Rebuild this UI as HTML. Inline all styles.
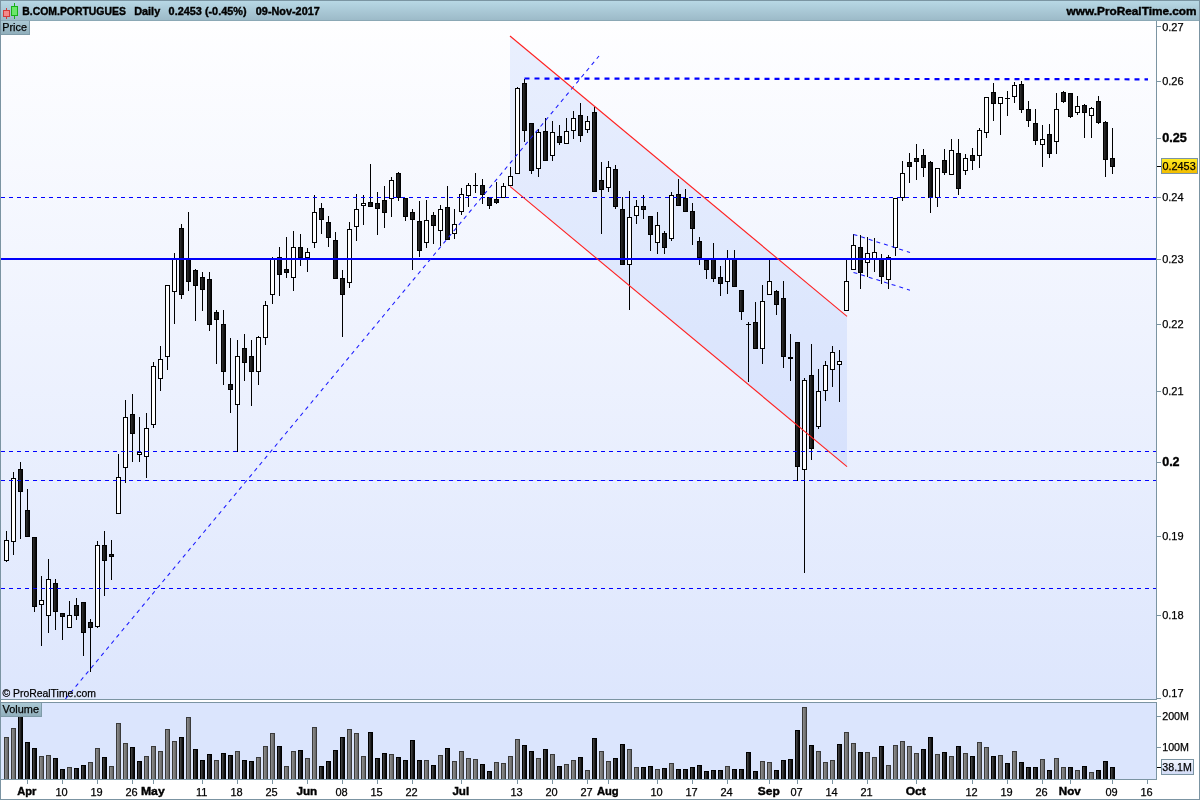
<!DOCTYPE html><html><head><meta charset="utf-8"><title>B.COM.PORTUGUES</title>
<style>html,body{margin:0;padding:0;background:#fff;overflow:hidden}svg{display:block;font-family:"Liberation Sans",sans-serif}</style></head><body>
<svg width="1200" height="800" viewBox="0 0 1200 800">
<defs>
<linearGradient id="hd" x1="0" y1="0" x2="0" y2="1"><stop offset="0" stop-color="#b9d9e6"/><stop offset="1" stop-color="#9bb9c7"/></linearGradient>
<linearGradient id="lb" x1="0" y1="0" x2="0" y2="1"><stop offset="0" stop-color="#abc9d5"/><stop offset="1" stop-color="#8eacb9"/></linearGradient>
<linearGradient id="bg" x1="0" y1="0" x2="0" y2="1"><stop offset="0" stop-color="#fefeff"/><stop offset="1" stop-color="#dde6fd"/></linearGradient>
<linearGradient id="yl" x1="0" y1="0" x2="0" y2="1"><stop offset="0" stop-color="#ffea20"/><stop offset="1" stop-color="#f2bd00"/></linearGradient>
<linearGradient id="vl" x1="0" y1="0" x2="0" y2="1"><stop offset="0" stop-color="#f0f4fe"/><stop offset="1" stop-color="#d2dbf5"/></linearGradient>
<linearGradient id="gb" x1="0" y1="0" x2="1" y2="0"><stop offset="0" stop-color="#303030"/><stop offset="1" stop-color="#060606"/></linearGradient>
<linearGradient id="vg" x1="0" y1="0" x2="1" y2="0"><stop offset="0" stop-color="#8e8e8e"/><stop offset="1" stop-color="#646464"/></linearGradient>
<linearGradient id="vb" x1="0" y1="0" x2="1" y2="0"><stop offset="0" stop-color="#4a4a4a"/><stop offset="1" stop-color="#020202"/></linearGradient>
<filter id="noop" x="0" y="0" width="1200" height="800" filterUnits="userSpaceOnUse" color-interpolation-filters="sRGB"><feOffset dx="0" dy="0"/></filter>
<clipPath id="cp"><rect x="1" y="21" width="1155" height="678"/></clipPath>
</defs>
<rect x="0" y="0" width="1200" height="800" fill="#ffffff"/>
<rect x="0" y="0" width="1200" height="21" fill="url(#hd)"/>
<rect x="0" y="0" width="1200" height="1" fill="#7b95a2"/>
<rect x="0" y="20" width="1200" height="1" fill="#8ba8b5"/>
<rect x="1" y="21" width="1155" height="678" fill="url(#bg)"/>
<rect x="1" y="703" width="1155" height="76" fill="#dbe5fd"/>
<g clip-path="url(#cp)">
<polygon points="510,36 847,316.2 847,466.6 510,186.4" fill="rgba(80,130,250,0.115)"/>
</g>
<g shape-rendering="crispEdges">
<rect x="6" y="531" width="1" height="31" fill="#000"/>
<rect x="4" y="540" width="5" height="21" fill="#000"/>
<rect x="5" y="541" width="3" height="19" fill="#fff"/>
<rect x="13" y="472" width="1" height="83" fill="#000"/>
<rect x="11" y="478" width="5" height="64" fill="#000"/>
<rect x="12" y="479" width="3" height="62" fill="#fff"/>
<rect x="20" y="462" width="1" height="77" fill="#000"/>
<rect x="18" y="469" width="5" height="23" fill="#000"/>
<rect x="19" y="470" width="3" height="21" fill="url(#gb)"/>
<rect x="27" y="489" width="1" height="48" fill="#000"/>
<rect x="25" y="510" width="5" height="27" fill="#000"/>
<rect x="26" y="511" width="3" height="25" fill="url(#gb)"/>
<rect x="34" y="537" width="1" height="75" fill="#000"/>
<rect x="32" y="537" width="5" height="70" fill="#000"/>
<rect x="33" y="538" width="3" height="68" fill="url(#gb)"/>
<rect x="41" y="576" width="1" height="70" fill="#000"/>
<rect x="39" y="600" width="5" height="5" fill="#000"/>
<rect x="40" y="601" width="3" height="3" fill="#fff"/>
<rect x="48" y="559" width="1" height="74" fill="#000"/>
<rect x="46" y="579" width="5" height="37" fill="#000"/>
<rect x="47" y="580" width="3" height="35" fill="#fff"/>
<rect x="55" y="579" width="1" height="51" fill="#000"/>
<rect x="53" y="583" width="5" height="29" fill="#000"/>
<rect x="54" y="584" width="3" height="27" fill="url(#gb)"/>
<rect x="62" y="613" width="1" height="27" fill="#000"/>
<rect x="60" y="613" width="5" height="4" fill="#000"/>
<rect x="61" y="614" width="3" height="2" fill="url(#gb)"/>
<rect x="69" y="601" width="1" height="27" fill="#000"/>
<rect x="67" y="615" width="5" height="13" fill="#000"/>
<rect x="68" y="616" width="3" height="11" fill="#fff"/>
<rect x="76" y="598" width="1" height="22" fill="#000"/>
<rect x="74" y="605" width="5" height="11" fill="#000"/>
<rect x="75" y="606" width="3" height="9" fill="url(#gb)"/>
<rect x="83" y="602" width="1" height="54" fill="#000"/>
<rect x="81" y="602" width="5" height="31" fill="#000"/>
<rect x="82" y="603" width="3" height="29" fill="url(#gb)"/>
<rect x="90" y="619" width="1" height="53" fill="#000"/>
<rect x="88" y="622" width="5" height="6" fill="#000"/>
<rect x="89" y="623" width="3" height="4" fill="url(#gb)"/>
<rect x="97" y="541" width="1" height="87" fill="#000"/>
<rect x="95" y="545" width="5" height="82" fill="#000"/>
<rect x="96" y="546" width="3" height="80" fill="#fff"/>
<rect x="104" y="531" width="1" height="65" fill="#000"/>
<rect x="102" y="545" width="5" height="16" fill="#000"/>
<rect x="103" y="546" width="3" height="14" fill="url(#gb)"/>
<rect x="111" y="540" width="1" height="40" fill="#000"/>
<rect x="109" y="554" width="5" height="3" fill="#000"/>
<rect x="110" y="555" width="3" height="1" fill="url(#gb)"/>
<rect x="118" y="454" width="1" height="60" fill="#000"/>
<rect x="116" y="477" width="5" height="37" fill="#000"/>
<rect x="117" y="478" width="3" height="35" fill="#fff"/>
<rect x="125" y="400" width="1" height="83" fill="#000"/>
<rect x="123" y="417" width="5" height="51" fill="#000"/>
<rect x="124" y="418" width="3" height="49" fill="#fff"/>
<rect x="132" y="394" width="1" height="68" fill="#000"/>
<rect x="130" y="414" width="5" height="20" fill="#000"/>
<rect x="131" y="415" width="3" height="18" fill="url(#gb)"/>
<rect x="139" y="417" width="1" height="45" fill="#000"/>
<rect x="137" y="452" width="5" height="3" fill="#000"/>
<rect x="138" y="453" width="3" height="1" fill="#fff"/>
<rect x="146" y="413" width="1" height="65" fill="#000"/>
<rect x="144" y="428" width="5" height="29" fill="#000"/>
<rect x="145" y="429" width="3" height="27" fill="#fff"/>
<rect x="153" y="362" width="1" height="66" fill="#000"/>
<rect x="151" y="366" width="5" height="59" fill="#000"/>
<rect x="152" y="367" width="3" height="57" fill="#fff"/>
<rect x="160" y="346" width="1" height="45" fill="#000"/>
<rect x="158" y="359" width="5" height="20" fill="#000"/>
<rect x="159" y="360" width="3" height="18" fill="#fff"/>
<rect x="167" y="285" width="1" height="85" fill="#000"/>
<rect x="165" y="285" width="5" height="72" fill="#000"/>
<rect x="166" y="286" width="3" height="70" fill="#fff"/>
<rect x="174" y="253" width="1" height="71" fill="#000"/>
<rect x="172" y="258" width="5" height="34" fill="#000"/>
<rect x="173" y="259" width="3" height="32" fill="#fff"/>
<rect x="181" y="224" width="1" height="75" fill="#000"/>
<rect x="179" y="228" width="5" height="67" fill="#000"/>
<rect x="180" y="229" width="3" height="65" fill="url(#gb)"/>
<rect x="188" y="212" width="1" height="79" fill="#000"/>
<rect x="186" y="258" width="5" height="24" fill="#000"/>
<rect x="187" y="259" width="3" height="22" fill="url(#gb)"/>
<rect x="195" y="269" width="1" height="52" fill="#000"/>
<rect x="193" y="270" width="5" height="16" fill="#000"/>
<rect x="194" y="271" width="3" height="14" fill="url(#gb)"/>
<rect x="202" y="272" width="1" height="39" fill="#000"/>
<rect x="200" y="277" width="5" height="13" fill="#000"/>
<rect x="201" y="278" width="3" height="11" fill="url(#gb)"/>
<rect x="209" y="272" width="1" height="59" fill="#000"/>
<rect x="207" y="279" width="5" height="46" fill="#000"/>
<rect x="208" y="280" width="3" height="44" fill="url(#gb)"/>
<rect x="216" y="310" width="1" height="54" fill="#000"/>
<rect x="214" y="312" width="5" height="8" fill="#000"/>
<rect x="215" y="313" width="3" height="6" fill="url(#gb)"/>
<rect x="223" y="310" width="1" height="75" fill="#000"/>
<rect x="221" y="324" width="5" height="48" fill="#000"/>
<rect x="222" y="325" width="3" height="46" fill="url(#gb)"/>
<rect x="230" y="338" width="1" height="75" fill="#000"/>
<rect x="228" y="384" width="5" height="6" fill="#000"/>
<rect x="229" y="385" width="3" height="4" fill="url(#gb)"/>
<rect x="237" y="340" width="1" height="112" fill="#000"/>
<rect x="235" y="356" width="5" height="49" fill="#000"/>
<rect x="236" y="357" width="3" height="47" fill="#fff"/>
<rect x="244" y="334" width="1" height="47" fill="#000"/>
<rect x="242" y="348" width="5" height="15" fill="#000"/>
<rect x="243" y="349" width="3" height="13" fill="url(#gb)"/>
<rect x="251" y="340" width="1" height="66" fill="#000"/>
<rect x="249" y="356" width="5" height="16" fill="#000"/>
<rect x="250" y="357" width="3" height="14" fill="url(#gb)"/>
<rect x="258" y="336" width="1" height="49" fill="#000"/>
<rect x="256" y="337" width="5" height="35" fill="#000"/>
<rect x="257" y="338" width="3" height="33" fill="#fff"/>
<rect x="265" y="301" width="1" height="44" fill="#000"/>
<rect x="263" y="305" width="5" height="33" fill="#000"/>
<rect x="264" y="306" width="3" height="31" fill="#fff"/>
<rect x="272" y="257" width="1" height="47" fill="#000"/>
<rect x="270" y="258" width="5" height="37" fill="#000"/>
<rect x="271" y="259" width="3" height="35" fill="#fff"/>
<rect x="279" y="247" width="1" height="49" fill="#000"/>
<rect x="277" y="257" width="5" height="18" fill="#000"/>
<rect x="278" y="258" width="3" height="16" fill="url(#gb)"/>
<rect x="286" y="237" width="1" height="41" fill="#000"/>
<rect x="284" y="269" width="5" height="4" fill="#000"/>
<rect x="285" y="270" width="3" height="2" fill="url(#gb)"/>
<rect x="293" y="231" width="1" height="60" fill="#000"/>
<rect x="291" y="247" width="5" height="31" fill="#000"/>
<rect x="292" y="248" width="3" height="29" fill="#fff"/>
<rect x="300" y="234" width="1" height="32" fill="#000"/>
<rect x="298" y="247" width="5" height="11" fill="#000"/>
<rect x="299" y="248" width="3" height="9" fill="url(#gb)"/>
<rect x="307" y="248" width="1" height="24" fill="#000"/>
<rect x="305" y="252" width="5" height="6" fill="#000"/>
<rect x="306" y="253" width="3" height="4" fill="#fff"/>
<rect x="314" y="195" width="1" height="53" fill="#000"/>
<rect x="312" y="212" width="5" height="31" fill="#000"/>
<rect x="313" y="213" width="3" height="29" fill="#fff"/>
<rect x="321" y="203" width="1" height="31" fill="#000"/>
<rect x="319" y="208" width="5" height="12" fill="#000"/>
<rect x="320" y="209" width="3" height="10" fill="url(#gb)"/>
<rect x="328" y="216" width="1" height="31" fill="#000"/>
<rect x="326" y="222" width="5" height="16" fill="#000"/>
<rect x="327" y="223" width="3" height="14" fill="url(#gb)"/>
<rect x="335" y="232" width="1" height="47" fill="#000"/>
<rect x="333" y="240" width="5" height="39" fill="#000"/>
<rect x="334" y="241" width="3" height="37" fill="url(#gb)"/>
<rect x="342" y="270" width="1" height="67" fill="#000"/>
<rect x="340" y="278" width="5" height="17" fill="#000"/>
<rect x="341" y="279" width="3" height="15" fill="url(#gb)"/>
<rect x="349" y="222" width="1" height="66" fill="#000"/>
<rect x="347" y="229" width="5" height="54" fill="#000"/>
<rect x="348" y="230" width="3" height="52" fill="#fff"/>
<rect x="356" y="194" width="1" height="47" fill="#000"/>
<rect x="354" y="209" width="5" height="18" fill="#000"/>
<rect x="355" y="210" width="3" height="16" fill="#fff"/>
<rect x="363" y="195" width="1" height="30" fill="#000"/>
<rect x="361" y="203" width="5" height="3" fill="#000"/>
<rect x="362" y="204" width="3" height="1" fill="#fff"/>
<rect x="370" y="164" width="1" height="43" fill="#000"/>
<rect x="368" y="202" width="5" height="5" fill="#000"/>
<rect x="369" y="203" width="3" height="3" fill="url(#gb)"/>
<rect x="377" y="192" width="1" height="43" fill="#000"/>
<rect x="375" y="203" width="5" height="6" fill="#000"/>
<rect x="376" y="204" width="3" height="4" fill="url(#gb)"/>
<rect x="384" y="186" width="1" height="42" fill="#000"/>
<rect x="382" y="200" width="5" height="13" fill="#000"/>
<rect x="383" y="201" width="3" height="11" fill="url(#gb)"/>
<rect x="391" y="177" width="1" height="40" fill="#000"/>
<rect x="389" y="180" width="5" height="19" fill="#000"/>
<rect x="390" y="181" width="3" height="17" fill="#fff"/>
<rect x="398" y="172" width="1" height="29" fill="#000"/>
<rect x="396" y="173" width="5" height="25" fill="#000"/>
<rect x="397" y="174" width="3" height="23" fill="url(#gb)"/>
<rect x="405" y="198" width="1" height="23" fill="#000"/>
<rect x="403" y="198" width="5" height="19" fill="#000"/>
<rect x="404" y="199" width="3" height="17" fill="url(#gb)"/>
<rect x="412" y="209" width="1" height="61" fill="#000"/>
<rect x="410" y="212" width="5" height="8" fill="#000"/>
<rect x="411" y="213" width="3" height="6" fill="url(#gb)"/>
<rect x="419" y="201" width="1" height="56" fill="#000"/>
<rect x="417" y="221" width="5" height="30" fill="#000"/>
<rect x="418" y="222" width="3" height="28" fill="url(#gb)"/>
<rect x="426" y="200" width="1" height="48" fill="#000"/>
<rect x="424" y="220" width="5" height="23" fill="#000"/>
<rect x="425" y="221" width="3" height="21" fill="#fff"/>
<rect x="433" y="212" width="1" height="32" fill="#000"/>
<rect x="431" y="215" width="5" height="11" fill="#000"/>
<rect x="432" y="216" width="3" height="9" fill="url(#gb)"/>
<rect x="440" y="205" width="1" height="41" fill="#000"/>
<rect x="438" y="209" width="5" height="22" fill="#000"/>
<rect x="439" y="210" width="3" height="20" fill="#fff"/>
<rect x="447" y="186" width="1" height="54" fill="#000"/>
<rect x="445" y="207" width="5" height="33" fill="#000"/>
<rect x="446" y="208" width="3" height="31" fill="url(#gb)"/>
<rect x="454" y="209" width="1" height="30" fill="#000"/>
<rect x="452" y="224" width="5" height="10" fill="#000"/>
<rect x="453" y="225" width="3" height="8" fill="#fff"/>
<rect x="461" y="188" width="1" height="27" fill="#000"/>
<rect x="459" y="194" width="5" height="18" fill="#000"/>
<rect x="460" y="195" width="3" height="16" fill="#fff"/>
<rect x="468" y="183" width="1" height="24" fill="#000"/>
<rect x="466" y="185" width="5" height="11" fill="#000"/>
<rect x="467" y="186" width="3" height="9" fill="#fff"/>
<rect x="475" y="173" width="1" height="20" fill="#000"/>
<rect x="473" y="185" width="5" height="1" fill="#000"/>
<rect x="482" y="179" width="1" height="25" fill="#000"/>
<rect x="480" y="185" width="5" height="10" fill="#000"/>
<rect x="481" y="186" width="3" height="8" fill="url(#gb)"/>
<rect x="489" y="197" width="1" height="12" fill="#000"/>
<rect x="487" y="197" width="5" height="9" fill="#000"/>
<rect x="488" y="198" width="3" height="7" fill="url(#gb)"/>
<rect x="496" y="182" width="1" height="22" fill="#000"/>
<rect x="494" y="199" width="5" height="4" fill="#000"/>
<rect x="495" y="200" width="3" height="2" fill="url(#gb)"/>
<rect x="503" y="183" width="1" height="15" fill="#000"/>
<rect x="501" y="186" width="5" height="12" fill="#000"/>
<rect x="502" y="187" width="3" height="10" fill="#fff"/>
<rect x="510" y="167" width="1" height="19" fill="#000"/>
<rect x="508" y="176" width="5" height="10" fill="#000"/>
<rect x="509" y="177" width="3" height="8" fill="#fff"/>
<rect x="517" y="87" width="1" height="87" fill="#000"/>
<rect x="515" y="88" width="5" height="86" fill="#000"/>
<rect x="516" y="89" width="3" height="84" fill="#fff"/>
<rect x="524" y="79" width="1" height="63" fill="#000"/>
<rect x="522" y="83" width="5" height="48" fill="#000"/>
<rect x="523" y="84" width="3" height="46" fill="url(#gb)"/>
<rect x="531" y="123" width="1" height="51" fill="#000"/>
<rect x="529" y="123" width="5" height="48" fill="#000"/>
<rect x="530" y="124" width="3" height="46" fill="url(#gb)"/>
<rect x="538" y="129" width="1" height="48" fill="#000"/>
<rect x="536" y="132" width="5" height="37" fill="#000"/>
<rect x="537" y="133" width="3" height="35" fill="#fff"/>
<rect x="545" y="118" width="1" height="43" fill="#000"/>
<rect x="543" y="131" width="5" height="30" fill="#000"/>
<rect x="544" y="132" width="3" height="28" fill="url(#gb)"/>
<rect x="552" y="121" width="1" height="40" fill="#000"/>
<rect x="550" y="132" width="5" height="24" fill="#000"/>
<rect x="551" y="133" width="3" height="22" fill="#fff"/>
<rect x="559" y="125" width="1" height="20" fill="#000"/>
<rect x="557" y="136" width="5" height="7" fill="#000"/>
<rect x="558" y="137" width="3" height="5" fill="url(#gb)"/>
<rect x="566" y="118" width="1" height="26" fill="#000"/>
<rect x="564" y="131" width="5" height="13" fill="#000"/>
<rect x="565" y="132" width="3" height="11" fill="#fff"/>
<rect x="573" y="111" width="1" height="28" fill="#000"/>
<rect x="571" y="118" width="5" height="13" fill="#000"/>
<rect x="572" y="119" width="3" height="11" fill="#fff"/>
<rect x="580" y="103" width="1" height="39" fill="#000"/>
<rect x="578" y="115" width="5" height="21" fill="#000"/>
<rect x="579" y="116" width="3" height="19" fill="url(#gb)"/>
<rect x="587" y="116" width="1" height="17" fill="#000"/>
<rect x="585" y="121" width="5" height="9" fill="#000"/>
<rect x="586" y="122" width="3" height="7" fill="#fff"/>
<rect x="594" y="107" width="1" height="85" fill="#000"/>
<rect x="592" y="112" width="5" height="80" fill="#000"/>
<rect x="593" y="113" width="3" height="78" fill="url(#gb)"/>
<rect x="601" y="162" width="1" height="72" fill="#000"/>
<rect x="599" y="180" width="5" height="10" fill="#000"/>
<rect x="600" y="181" width="3" height="8" fill="url(#gb)"/>
<rect x="608" y="161" width="1" height="31" fill="#000"/>
<rect x="606" y="167" width="5" height="21" fill="#000"/>
<rect x="607" y="168" width="3" height="19" fill="#fff"/>
<rect x="615" y="165" width="1" height="44" fill="#000"/>
<rect x="613" y="169" width="5" height="38" fill="#000"/>
<rect x="614" y="170" width="3" height="36" fill="url(#gb)"/>
<rect x="622" y="197" width="1" height="68" fill="#000"/>
<rect x="620" y="209" width="5" height="56" fill="#000"/>
<rect x="621" y="210" width="3" height="54" fill="url(#gb)"/>
<rect x="629" y="191" width="1" height="119" fill="#000"/>
<rect x="627" y="217" width="5" height="48" fill="#000"/>
<rect x="628" y="218" width="3" height="46" fill="#fff"/>
<rect x="636" y="200" width="1" height="24" fill="#000"/>
<rect x="634" y="206" width="5" height="10" fill="#000"/>
<rect x="635" y="207" width="3" height="8" fill="#fff"/>
<rect x="643" y="195" width="1" height="24" fill="#000"/>
<rect x="641" y="206" width="5" height="4" fill="#000"/>
<rect x="642" y="207" width="3" height="2" fill="url(#gb)"/>
<rect x="650" y="216" width="1" height="35" fill="#000"/>
<rect x="648" y="216" width="5" height="19" fill="#000"/>
<rect x="649" y="217" width="3" height="17" fill="url(#gb)"/>
<rect x="657" y="212" width="1" height="42" fill="#000"/>
<rect x="655" y="225" width="5" height="18" fill="#000"/>
<rect x="656" y="226" width="3" height="16" fill="#fff"/>
<rect x="664" y="231" width="1" height="23" fill="#000"/>
<rect x="662" y="233" width="5" height="15" fill="#000"/>
<rect x="663" y="234" width="3" height="13" fill="url(#gb)"/>
<rect x="671" y="192" width="1" height="49" fill="#000"/>
<rect x="669" y="195" width="5" height="44" fill="#000"/>
<rect x="670" y="196" width="3" height="42" fill="#fff"/>
<rect x="678" y="179" width="1" height="27" fill="#000"/>
<rect x="676" y="194" width="5" height="12" fill="#000"/>
<rect x="677" y="195" width="3" height="10" fill="url(#gb)"/>
<rect x="685" y="189" width="1" height="23" fill="#000"/>
<rect x="683" y="198" width="5" height="14" fill="#000"/>
<rect x="684" y="199" width="3" height="12" fill="url(#gb)"/>
<rect x="692" y="203" width="1" height="42" fill="#000"/>
<rect x="690" y="211" width="5" height="18" fill="#000"/>
<rect x="691" y="212" width="3" height="16" fill="url(#gb)"/>
<rect x="699" y="237" width="1" height="28" fill="#000"/>
<rect x="697" y="241" width="5" height="17" fill="#000"/>
<rect x="698" y="242" width="3" height="15" fill="url(#gb)"/>
<rect x="706" y="258" width="1" height="21" fill="#000"/>
<rect x="704" y="260" width="5" height="10" fill="#000"/>
<rect x="705" y="261" width="3" height="8" fill="url(#gb)"/>
<rect x="713" y="243" width="1" height="39" fill="#000"/>
<rect x="711" y="259" width="5" height="20" fill="#000"/>
<rect x="712" y="260" width="3" height="18" fill="url(#gb)"/>
<rect x="720" y="266" width="1" height="30" fill="#000"/>
<rect x="718" y="277" width="5" height="7" fill="#000"/>
<rect x="719" y="278" width="3" height="5" fill="url(#gb)"/>
<rect x="727" y="250" width="1" height="44" fill="#000"/>
<rect x="725" y="259" width="5" height="23" fill="#000"/>
<rect x="726" y="260" width="3" height="21" fill="#fff"/>
<rect x="734" y="250" width="1" height="37" fill="#000"/>
<rect x="732" y="259" width="5" height="28" fill="#000"/>
<rect x="733" y="260" width="3" height="26" fill="url(#gb)"/>
<rect x="741" y="290" width="1" height="30" fill="#000"/>
<rect x="739" y="290" width="5" height="22" fill="#000"/>
<rect x="740" y="291" width="3" height="20" fill="url(#gb)"/>
<rect x="748" y="322" width="1" height="60" fill="#000"/>
<rect x="746" y="324" width="5" height="1" fill="#000"/>
<rect x="755" y="302" width="1" height="47" fill="#000"/>
<rect x="753" y="322" width="5" height="27" fill="#000"/>
<rect x="754" y="323" width="3" height="25" fill="url(#gb)"/>
<rect x="762" y="285" width="1" height="79" fill="#000"/>
<rect x="760" y="301" width="5" height="48" fill="#000"/>
<rect x="761" y="302" width="3" height="46" fill="#fff"/>
<rect x="769" y="260" width="1" height="35" fill="#000"/>
<rect x="767" y="281" width="5" height="14" fill="#000"/>
<rect x="768" y="282" width="3" height="12" fill="#fff"/>
<rect x="776" y="290" width="1" height="25" fill="#000"/>
<rect x="774" y="291" width="5" height="14" fill="#000"/>
<rect x="775" y="292" width="3" height="12" fill="url(#gb)"/>
<rect x="783" y="281" width="1" height="87" fill="#000"/>
<rect x="781" y="298" width="5" height="59" fill="#000"/>
<rect x="782" y="299" width="3" height="57" fill="url(#gb)"/>
<rect x="790" y="334" width="1" height="47" fill="#000"/>
<rect x="788" y="357" width="5" height="2" fill="#000"/>
<rect x="797" y="342" width="1" height="139" fill="#000"/>
<rect x="795" y="342" width="5" height="125" fill="#000"/>
<rect x="796" y="343" width="3" height="123" fill="url(#gb)"/>
<rect x="804" y="378" width="1" height="195" fill="#000"/>
<rect x="802" y="380" width="5" height="90" fill="#000"/>
<rect x="803" y="381" width="3" height="88" fill="#fff"/>
<rect x="811" y="344" width="1" height="116" fill="#000"/>
<rect x="809" y="375" width="5" height="74" fill="#000"/>
<rect x="810" y="376" width="3" height="72" fill="url(#gb)"/>
<rect x="818" y="369" width="1" height="60" fill="#000"/>
<rect x="816" y="391" width="5" height="36" fill="#000"/>
<rect x="817" y="392" width="3" height="34" fill="#fff"/>
<rect x="825" y="361" width="1" height="40" fill="#000"/>
<rect x="823" y="365" width="5" height="26" fill="#000"/>
<rect x="824" y="366" width="3" height="24" fill="#fff"/>
<rect x="832" y="346" width="1" height="41" fill="#000"/>
<rect x="830" y="352" width="5" height="18" fill="#000"/>
<rect x="831" y="353" width="3" height="16" fill="#fff"/>
<rect x="839" y="350" width="1" height="52" fill="#000"/>
<rect x="837" y="361" width="5" height="4" fill="#000"/>
<rect x="838" y="362" width="3" height="2" fill="#fff"/>
<rect x="846" y="259" width="1" height="52" fill="#000"/>
<rect x="844" y="281" width="5" height="30" fill="#000"/>
<rect x="845" y="282" width="3" height="28" fill="#fff"/>
<rect x="853" y="234" width="1" height="36" fill="#000"/>
<rect x="851" y="245" width="5" height="25" fill="#000"/>
<rect x="852" y="246" width="3" height="23" fill="#fff"/>
<rect x="860" y="235" width="1" height="54" fill="#000"/>
<rect x="858" y="247" width="5" height="26" fill="#000"/>
<rect x="859" y="248" width="3" height="24" fill="url(#gb)"/>
<rect x="867" y="237" width="1" height="40" fill="#000"/>
<rect x="865" y="253" width="5" height="10" fill="#000"/>
<rect x="866" y="254" width="3" height="8" fill="#fff"/>
<rect x="874" y="238" width="1" height="34" fill="#000"/>
<rect x="872" y="252" width="5" height="8" fill="#000"/>
<rect x="873" y="253" width="3" height="6" fill="#fff"/>
<rect x="881" y="254" width="1" height="30" fill="#000"/>
<rect x="879" y="259" width="5" height="18" fill="#000"/>
<rect x="880" y="260" width="3" height="16" fill="url(#gb)"/>
<rect x="888" y="255" width="1" height="34" fill="#000"/>
<rect x="886" y="257" width="5" height="23" fill="#000"/>
<rect x="887" y="258" width="3" height="21" fill="#fff"/>
<rect x="895" y="198" width="1" height="58" fill="#000"/>
<rect x="893" y="198" width="5" height="50" fill="#000"/>
<rect x="894" y="199" width="3" height="48" fill="#fff"/>
<rect x="902" y="161" width="1" height="40" fill="#000"/>
<rect x="900" y="173" width="5" height="25" fill="#000"/>
<rect x="901" y="174" width="3" height="23" fill="#fff"/>
<rect x="909" y="153" width="1" height="30" fill="#000"/>
<rect x="907" y="162" width="5" height="5" fill="#000"/>
<rect x="908" y="163" width="3" height="3" fill="url(#gb)"/>
<rect x="916" y="144" width="1" height="36" fill="#000"/>
<rect x="914" y="158" width="5" height="4" fill="#000"/>
<rect x="915" y="159" width="3" height="2" fill="url(#gb)"/>
<rect x="923" y="149" width="1" height="28" fill="#000"/>
<rect x="921" y="155" width="5" height="13" fill="#000"/>
<rect x="922" y="156" width="3" height="11" fill="url(#gb)"/>
<rect x="930" y="161" width="1" height="52" fill="#000"/>
<rect x="928" y="162" width="5" height="36" fill="#000"/>
<rect x="929" y="163" width="3" height="34" fill="url(#gb)"/>
<rect x="937" y="168" width="1" height="39" fill="#000"/>
<rect x="935" y="168" width="5" height="30" fill="#000"/>
<rect x="936" y="169" width="3" height="28" fill="#fff"/>
<rect x="944" y="149" width="1" height="26" fill="#000"/>
<rect x="942" y="160" width="5" height="13" fill="#000"/>
<rect x="943" y="161" width="3" height="11" fill="url(#gb)"/>
<rect x="951" y="139" width="1" height="36" fill="#000"/>
<rect x="949" y="150" width="5" height="25" fill="#000"/>
<rect x="950" y="151" width="3" height="23" fill="#fff"/>
<rect x="958" y="139" width="1" height="56" fill="#000"/>
<rect x="956" y="153" width="5" height="36" fill="#000"/>
<rect x="957" y="154" width="3" height="34" fill="url(#gb)"/>
<rect x="965" y="154" width="1" height="21" fill="#000"/>
<rect x="963" y="158" width="5" height="13" fill="#000"/>
<rect x="964" y="159" width="3" height="11" fill="#fff"/>
<rect x="972" y="148" width="1" height="22" fill="#000"/>
<rect x="970" y="155" width="5" height="6" fill="#000"/>
<rect x="971" y="156" width="3" height="4" fill="url(#gb)"/>
<rect x="979" y="128" width="1" height="40" fill="#000"/>
<rect x="977" y="130" width="5" height="26" fill="#000"/>
<rect x="978" y="131" width="3" height="24" fill="#fff"/>
<rect x="986" y="97" width="1" height="41" fill="#000"/>
<rect x="984" y="97" width="5" height="36" fill="#000"/>
<rect x="985" y="98" width="3" height="34" fill="#fff"/>
<rect x="993" y="83" width="1" height="38" fill="#000"/>
<rect x="991" y="92" width="5" height="12" fill="#000"/>
<rect x="992" y="93" width="3" height="10" fill="url(#gb)"/>
<rect x="1000" y="97" width="1" height="38" fill="#000"/>
<rect x="998" y="97" width="5" height="7" fill="#000"/>
<rect x="999" y="98" width="3" height="5" fill="#fff"/>
<rect x="1007" y="91" width="1" height="25" fill="#000"/>
<rect x="1005" y="98" width="5" height="1" fill="#000"/>
<rect x="1014" y="82" width="1" height="21" fill="#000"/>
<rect x="1012" y="85" width="5" height="12" fill="#000"/>
<rect x="1013" y="86" width="3" height="10" fill="#fff"/>
<rect x="1021" y="81" width="1" height="32" fill="#000"/>
<rect x="1019" y="84" width="5" height="26" fill="#000"/>
<rect x="1020" y="85" width="3" height="24" fill="url(#gb)"/>
<rect x="1028" y="101" width="1" height="26" fill="#000"/>
<rect x="1026" y="109" width="5" height="12" fill="#000"/>
<rect x="1027" y="110" width="3" height="10" fill="url(#gb)"/>
<rect x="1035" y="109" width="1" height="36" fill="#000"/>
<rect x="1033" y="123" width="5" height="18" fill="#000"/>
<rect x="1034" y="124" width="3" height="16" fill="url(#gb)"/>
<rect x="1042" y="125" width="1" height="42" fill="#000"/>
<rect x="1040" y="139" width="5" height="6" fill="#000"/>
<rect x="1041" y="140" width="3" height="4" fill="#fff"/>
<rect x="1049" y="124" width="1" height="34" fill="#000"/>
<rect x="1047" y="134" width="5" height="20" fill="#000"/>
<rect x="1048" y="135" width="3" height="18" fill="url(#gb)"/>
<rect x="1056" y="93" width="1" height="61" fill="#000"/>
<rect x="1054" y="109" width="5" height="33" fill="#000"/>
<rect x="1055" y="110" width="3" height="31" fill="#fff"/>
<rect x="1063" y="91" width="1" height="12" fill="#000"/>
<rect x="1061" y="92" width="5" height="10" fill="#000"/>
<rect x="1062" y="93" width="3" height="8" fill="url(#gb)"/>
<rect x="1070" y="93" width="1" height="25" fill="#000"/>
<rect x="1068" y="93" width="5" height="24" fill="#000"/>
<rect x="1069" y="94" width="3" height="22" fill="url(#gb)"/>
<rect x="1077" y="96" width="1" height="19" fill="#000"/>
<rect x="1075" y="106" width="5" height="7" fill="#000"/>
<rect x="1076" y="107" width="3" height="5" fill="#fff"/>
<rect x="1084" y="104" width="1" height="34" fill="#000"/>
<rect x="1082" y="105" width="5" height="8" fill="#000"/>
<rect x="1083" y="106" width="3" height="6" fill="url(#gb)"/>
<rect x="1091" y="107" width="1" height="31" fill="#000"/>
<rect x="1089" y="108" width="5" height="8" fill="#000"/>
<rect x="1090" y="109" width="3" height="6" fill="#fff"/>
<rect x="1098" y="96" width="1" height="28" fill="#000"/>
<rect x="1096" y="101" width="5" height="22" fill="#000"/>
<rect x="1097" y="102" width="3" height="20" fill="url(#gb)"/>
<rect x="1105" y="121" width="1" height="56" fill="#000"/>
<rect x="1103" y="122" width="5" height="38" fill="#000"/>
<rect x="1104" y="123" width="3" height="36" fill="url(#gb)"/>
<rect x="1112" y="128" width="1" height="46" fill="#000"/>
<rect x="1110" y="158" width="5" height="9" fill="#000"/>
<rect x="1111" y="159" width="3" height="7" fill="url(#gb)"/>
</g>
<g clip-path="url(#cp)" fill="none">
<line x1="1" y1="197.5" x2="1156" y2="197.5" stroke="#0000ff" stroke-width="1" stroke-dasharray="4 4" shape-rendering="crispEdges"/>
<line x1="1" y1="451.5" x2="1156" y2="451.5" stroke="#0000ff" stroke-width="1" stroke-dasharray="4 4" shape-rendering="crispEdges"/>
<line x1="1" y1="480.5" x2="1156" y2="480.5" stroke="#0000ff" stroke-width="1" stroke-dasharray="4 4" shape-rendering="crispEdges"/>
<line x1="1" y1="588.5" x2="1156" y2="588.5" stroke="#0000ff" stroke-width="1" stroke-dasharray="4 4" shape-rendering="crispEdges"/>
<rect x="1" y="258" width="1155" height="2" fill="#0000fa" shape-rendering="crispEdges"/>
<line x1="65.4" y1="699" x2="599" y2="56" stroke="#1a1aff" stroke-width="1.05" stroke-dasharray="4 4"/>
<line x1="510" y1="36" x2="847" y2="316.4" stroke="#ff2020" stroke-width="1.1"/>
<line x1="510" y1="186.4" x2="847" y2="466.6" stroke="#ff2020" stroke-width="1.1"/>
<line x1="853.5" y1="234.4" x2="910" y2="252.4" stroke="#1a1aff" stroke-width="1.05" stroke-dasharray="4 4"/>
<line x1="853.5" y1="272.4" x2="910" y2="290.2" stroke="#1a1aff" stroke-width="1.05" stroke-dasharray="4 4"/>
<line x1="524.5" y1="78.5" x2="1148" y2="79.3" stroke="#0000ff" stroke-width="2.2" stroke-dasharray="5 5"/>
</g>
<g shape-rendering="crispEdges">
<rect x="4" y="737" width="5" height="42" fill="#3a3a3a"/><rect x="5" y="738" width="3" height="41" fill="url(#vg)"/>
<rect x="11" y="728" width="5" height="51" fill="#3a3a3a"/><rect x="12" y="729" width="3" height="50" fill="url(#vg)"/>
<rect x="18" y="704" width="5" height="75" fill="#000"/><rect x="19" y="705" width="3" height="74" fill="url(#vb)"/>
<rect x="25" y="742" width="5" height="37" fill="#000"/><rect x="26" y="743" width="3" height="36" fill="url(#vb)"/>
<rect x="32" y="748" width="5" height="31" fill="#000"/><rect x="33" y="749" width="3" height="30" fill="url(#vb)"/>
<rect x="39" y="756" width="5" height="23" fill="#3a3a3a"/><rect x="40" y="757" width="3" height="22" fill="url(#vg)"/>
<rect x="46" y="755" width="5" height="24" fill="#3a3a3a"/><rect x="47" y="756" width="3" height="23" fill="url(#vg)"/>
<rect x="53" y="758" width="5" height="21" fill="#000"/><rect x="54" y="759" width="3" height="20" fill="url(#vb)"/>
<rect x="60" y="769" width="5" height="10" fill="#000"/><rect x="61" y="770" width="3" height="9" fill="url(#vb)"/>
<rect x="67" y="767" width="5" height="12" fill="#3a3a3a"/><rect x="68" y="768" width="3" height="11" fill="url(#vg)"/>
<rect x="74" y="768" width="5" height="11" fill="#000"/><rect x="75" y="769" width="3" height="10" fill="url(#vb)"/>
<rect x="81" y="765" width="5" height="14" fill="#000"/><rect x="82" y="766" width="3" height="13" fill="url(#vb)"/>
<rect x="88" y="762" width="5" height="17" fill="#3a3a3a"/><rect x="89" y="763" width="3" height="16" fill="url(#vg)"/>
<rect x="95" y="748" width="5" height="31" fill="#3a3a3a"/><rect x="96" y="749" width="3" height="30" fill="url(#vg)"/>
<rect x="102" y="757" width="5" height="22" fill="#000"/><rect x="103" y="758" width="3" height="21" fill="url(#vb)"/>
<rect x="109" y="766" width="5" height="13" fill="#3a3a3a"/><rect x="110" y="767" width="3" height="12" fill="url(#vg)"/>
<rect x="116" y="723" width="5" height="56" fill="#3a3a3a"/><rect x="117" y="724" width="3" height="55" fill="url(#vg)"/>
<rect x="123" y="743" width="5" height="36" fill="#3a3a3a"/><rect x="124" y="744" width="3" height="35" fill="url(#vg)"/>
<rect x="130" y="747" width="5" height="32" fill="#000"/><rect x="131" y="748" width="3" height="31" fill="url(#vb)"/>
<rect x="137" y="761" width="5" height="18" fill="#000"/><rect x="138" y="762" width="3" height="17" fill="url(#vb)"/>
<rect x="144" y="756" width="5" height="23" fill="#3a3a3a"/><rect x="145" y="757" width="3" height="22" fill="url(#vg)"/>
<rect x="151" y="746" width="5" height="33" fill="#3a3a3a"/><rect x="152" y="747" width="3" height="32" fill="url(#vg)"/>
<rect x="158" y="751" width="5" height="28" fill="#3a3a3a"/><rect x="159" y="752" width="3" height="27" fill="url(#vg)"/>
<rect x="165" y="729" width="5" height="50" fill="#3a3a3a"/><rect x="166" y="730" width="3" height="49" fill="url(#vg)"/>
<rect x="172" y="741" width="5" height="38" fill="#3a3a3a"/><rect x="173" y="742" width="3" height="37" fill="url(#vg)"/>
<rect x="179" y="737" width="5" height="42" fill="#000"/><rect x="180" y="738" width="3" height="41" fill="url(#vb)"/>
<rect x="186" y="717" width="5" height="62" fill="#3a3a3a"/><rect x="187" y="718" width="3" height="61" fill="url(#vg)"/>
<rect x="193" y="749" width="5" height="30" fill="#000"/><rect x="194" y="750" width="3" height="29" fill="url(#vb)"/>
<rect x="200" y="760" width="5" height="19" fill="#000"/><rect x="201" y="761" width="3" height="18" fill="url(#vb)"/>
<rect x="207" y="754" width="5" height="25" fill="#000"/><rect x="208" y="755" width="3" height="24" fill="url(#vb)"/>
<rect x="214" y="760" width="5" height="19" fill="#3a3a3a"/><rect x="215" y="761" width="3" height="18" fill="url(#vg)"/>
<rect x="221" y="753" width="5" height="26" fill="#000"/><rect x="222" y="754" width="3" height="25" fill="url(#vb)"/>
<rect x="228" y="755" width="5" height="24" fill="#000"/><rect x="229" y="756" width="3" height="23" fill="url(#vb)"/>
<rect x="235" y="751" width="5" height="28" fill="#3a3a3a"/><rect x="236" y="752" width="3" height="27" fill="url(#vg)"/>
<rect x="242" y="760" width="5" height="19" fill="#000"/><rect x="243" y="761" width="3" height="18" fill="url(#vb)"/>
<rect x="249" y="761" width="5" height="18" fill="#000"/><rect x="250" y="762" width="3" height="17" fill="url(#vb)"/>
<rect x="256" y="757" width="5" height="22" fill="#3a3a3a"/><rect x="257" y="758" width="3" height="21" fill="url(#vg)"/>
<rect x="263" y="746" width="5" height="33" fill="#3a3a3a"/><rect x="264" y="747" width="3" height="32" fill="url(#vg)"/>
<rect x="270" y="733" width="5" height="46" fill="#3a3a3a"/><rect x="271" y="734" width="3" height="45" fill="url(#vg)"/>
<rect x="277" y="746" width="5" height="33" fill="#000"/><rect x="278" y="747" width="3" height="32" fill="url(#vb)"/>
<rect x="284" y="766" width="5" height="13" fill="#3a3a3a"/><rect x="285" y="767" width="3" height="12" fill="url(#vg)"/>
<rect x="291" y="751" width="5" height="28" fill="#3a3a3a"/><rect x="292" y="752" width="3" height="27" fill="url(#vg)"/>
<rect x="298" y="750" width="5" height="29" fill="#000"/><rect x="299" y="751" width="3" height="28" fill="url(#vb)"/>
<rect x="305" y="758" width="5" height="21" fill="#3a3a3a"/><rect x="306" y="759" width="3" height="20" fill="url(#vg)"/>
<rect x="312" y="727" width="5" height="52" fill="#3a3a3a"/><rect x="313" y="728" width="3" height="51" fill="url(#vg)"/>
<rect x="319" y="766" width="5" height="13" fill="#000"/><rect x="320" y="767" width="3" height="12" fill="url(#vb)"/>
<rect x="326" y="761" width="5" height="18" fill="#000"/><rect x="327" y="762" width="3" height="17" fill="url(#vb)"/>
<rect x="333" y="750" width="5" height="29" fill="#000"/><rect x="334" y="751" width="3" height="28" fill="url(#vb)"/>
<rect x="340" y="737" width="5" height="42" fill="#000"/><rect x="341" y="738" width="3" height="41" fill="url(#vb)"/>
<rect x="347" y="729" width="5" height="50" fill="#3a3a3a"/><rect x="348" y="730" width="3" height="49" fill="url(#vg)"/>
<rect x="354" y="733" width="5" height="46" fill="#3a3a3a"/><rect x="355" y="734" width="3" height="45" fill="url(#vg)"/>
<rect x="361" y="756" width="5" height="23" fill="#3a3a3a"/><rect x="362" y="757" width="3" height="22" fill="url(#vg)"/>
<rect x="368" y="732" width="5" height="47" fill="#000"/><rect x="369" y="733" width="3" height="46" fill="url(#vb)"/>
<rect x="375" y="758" width="5" height="21" fill="#000"/><rect x="376" y="759" width="3" height="20" fill="url(#vb)"/>
<rect x="382" y="753" width="5" height="26" fill="#000"/><rect x="383" y="754" width="3" height="25" fill="url(#vb)"/>
<rect x="389" y="754" width="5" height="25" fill="#3a3a3a"/><rect x="390" y="755" width="3" height="24" fill="url(#vg)"/>
<rect x="396" y="757" width="5" height="22" fill="#000"/><rect x="397" y="758" width="3" height="21" fill="url(#vb)"/>
<rect x="403" y="760" width="5" height="19" fill="#000"/><rect x="404" y="761" width="3" height="18" fill="url(#vb)"/>
<rect x="410" y="740" width="5" height="39" fill="#000"/><rect x="411" y="741" width="3" height="38" fill="url(#vb)"/>
<rect x="417" y="760" width="5" height="19" fill="#000"/><rect x="418" y="761" width="3" height="18" fill="url(#vb)"/>
<rect x="424" y="760" width="5" height="19" fill="#3a3a3a"/><rect x="425" y="761" width="3" height="18" fill="url(#vg)"/>
<rect x="431" y="765" width="5" height="14" fill="#000"/><rect x="432" y="766" width="3" height="13" fill="url(#vb)"/>
<rect x="438" y="755" width="5" height="24" fill="#3a3a3a"/><rect x="439" y="756" width="3" height="23" fill="url(#vg)"/>
<rect x="445" y="748" width="5" height="31" fill="#000"/><rect x="446" y="749" width="3" height="30" fill="url(#vb)"/>
<rect x="452" y="761" width="5" height="18" fill="#3a3a3a"/><rect x="453" y="762" width="3" height="17" fill="url(#vg)"/>
<rect x="459" y="751" width="5" height="28" fill="#3a3a3a"/><rect x="460" y="752" width="3" height="27" fill="url(#vg)"/>
<rect x="466" y="758" width="5" height="21" fill="#3a3a3a"/><rect x="467" y="759" width="3" height="20" fill="url(#vg)"/>
<rect x="473" y="759" width="5" height="20" fill="#3a3a3a"/><rect x="474" y="760" width="3" height="19" fill="url(#vg)"/>
<rect x="480" y="764" width="5" height="15" fill="#000"/><rect x="481" y="765" width="3" height="14" fill="url(#vb)"/>
<rect x="487" y="771" width="5" height="8" fill="#000"/><rect x="488" y="772" width="3" height="7" fill="url(#vb)"/>
<rect x="494" y="762" width="5" height="17" fill="#3a3a3a"/><rect x="495" y="763" width="3" height="16" fill="url(#vg)"/>
<rect x="501" y="763" width="5" height="16" fill="#3a3a3a"/><rect x="502" y="764" width="3" height="15" fill="url(#vg)"/>
<rect x="508" y="756" width="5" height="23" fill="#3a3a3a"/><rect x="509" y="757" width="3" height="22" fill="url(#vg)"/>
<rect x="515" y="739" width="5" height="40" fill="#3a3a3a"/><rect x="516" y="740" width="3" height="39" fill="url(#vg)"/>
<rect x="522" y="745" width="5" height="34" fill="#000"/><rect x="523" y="746" width="3" height="33" fill="url(#vb)"/>
<rect x="529" y="751" width="5" height="28" fill="#000"/><rect x="530" y="752" width="3" height="27" fill="url(#vb)"/>
<rect x="536" y="758" width="5" height="21" fill="#3a3a3a"/><rect x="537" y="759" width="3" height="20" fill="url(#vg)"/>
<rect x="543" y="749" width="5" height="30" fill="#000"/><rect x="544" y="750" width="3" height="29" fill="url(#vb)"/>
<rect x="550" y="754" width="5" height="25" fill="#3a3a3a"/><rect x="551" y="755" width="3" height="24" fill="url(#vg)"/>
<rect x="557" y="766" width="5" height="13" fill="#000"/><rect x="558" y="767" width="3" height="12" fill="url(#vb)"/>
<rect x="564" y="764" width="5" height="15" fill="#3a3a3a"/><rect x="565" y="765" width="3" height="14" fill="url(#vg)"/>
<rect x="571" y="760" width="5" height="19" fill="#3a3a3a"/><rect x="572" y="761" width="3" height="18" fill="url(#vg)"/>
<rect x="578" y="757" width="5" height="22" fill="#000"/><rect x="579" y="758" width="3" height="21" fill="url(#vb)"/>
<rect x="585" y="770" width="5" height="9" fill="#3a3a3a"/><rect x="586" y="771" width="3" height="8" fill="url(#vg)"/>
<rect x="592" y="738" width="5" height="41" fill="#000"/><rect x="593" y="739" width="3" height="40" fill="url(#vb)"/>
<rect x="599" y="751" width="5" height="28" fill="#3a3a3a"/><rect x="600" y="752" width="3" height="27" fill="url(#vg)"/>
<rect x="606" y="761" width="5" height="18" fill="#3a3a3a"/><rect x="607" y="762" width="3" height="17" fill="url(#vg)"/>
<rect x="613" y="758" width="5" height="21" fill="#000"/><rect x="614" y="759" width="3" height="20" fill="url(#vb)"/>
<rect x="620" y="744" width="5" height="35" fill="#000"/><rect x="621" y="745" width="3" height="34" fill="url(#vb)"/>
<rect x="627" y="749" width="5" height="30" fill="#3a3a3a"/><rect x="628" y="750" width="3" height="29" fill="url(#vg)"/>
<rect x="634" y="767" width="5" height="12" fill="#3a3a3a"/><rect x="635" y="768" width="3" height="11" fill="url(#vg)"/>
<rect x="641" y="767" width="5" height="12" fill="#000"/><rect x="642" y="768" width="3" height="11" fill="url(#vb)"/>
<rect x="648" y="766" width="5" height="13" fill="#000"/><rect x="649" y="767" width="3" height="12" fill="url(#vb)"/>
<rect x="655" y="769" width="5" height="10" fill="#3a3a3a"/><rect x="656" y="770" width="3" height="9" fill="url(#vg)"/>
<rect x="662" y="768" width="5" height="11" fill="#000"/><rect x="663" y="769" width="3" height="10" fill="url(#vb)"/>
<rect x="669" y="763" width="5" height="16" fill="#3a3a3a"/><rect x="670" y="764" width="3" height="15" fill="url(#vg)"/>
<rect x="676" y="769" width="5" height="10" fill="#000"/><rect x="677" y="770" width="3" height="9" fill="url(#vb)"/>
<rect x="683" y="769" width="5" height="10" fill="#000"/><rect x="684" y="770" width="3" height="9" fill="url(#vb)"/>
<rect x="690" y="767" width="5" height="12" fill="#000"/><rect x="691" y="768" width="3" height="11" fill="url(#vb)"/>
<rect x="697" y="765" width="5" height="14" fill="#000"/><rect x="698" y="766" width="3" height="13" fill="url(#vb)"/>
<rect x="704" y="771" width="5" height="8" fill="#000"/><rect x="705" y="772" width="3" height="7" fill="url(#vb)"/>
<rect x="711" y="770" width="5" height="9" fill="#000"/><rect x="712" y="771" width="3" height="8" fill="url(#vb)"/>
<rect x="718" y="770" width="5" height="9" fill="#000"/><rect x="719" y="771" width="3" height="8" fill="url(#vb)"/>
<rect x="725" y="766" width="5" height="13" fill="#3a3a3a"/><rect x="726" y="767" width="3" height="12" fill="url(#vg)"/>
<rect x="732" y="769" width="5" height="10" fill="#000"/><rect x="733" y="770" width="3" height="9" fill="url(#vb)"/>
<rect x="739" y="769" width="5" height="10" fill="#000"/><rect x="740" y="770" width="3" height="9" fill="url(#vb)"/>
<rect x="746" y="752" width="5" height="27" fill="#000"/><rect x="747" y="753" width="3" height="26" fill="url(#vb)"/>
<rect x="753" y="771" width="5" height="8" fill="#000"/><rect x="754" y="772" width="3" height="7" fill="url(#vb)"/>
<rect x="760" y="761" width="5" height="18" fill="#3a3a3a"/><rect x="761" y="762" width="3" height="17" fill="url(#vg)"/>
<rect x="767" y="762" width="5" height="17" fill="#3a3a3a"/><rect x="768" y="763" width="3" height="16" fill="url(#vg)"/>
<rect x="774" y="770" width="5" height="9" fill="#000"/><rect x="775" y="771" width="3" height="8" fill="url(#vb)"/>
<rect x="781" y="760" width="5" height="19" fill="#000"/><rect x="782" y="761" width="3" height="18" fill="url(#vb)"/>
<rect x="788" y="759" width="5" height="20" fill="#000"/><rect x="789" y="760" width="3" height="19" fill="url(#vb)"/>
<rect x="795" y="730" width="5" height="49" fill="#000"/><rect x="796" y="731" width="3" height="48" fill="url(#vb)"/>
<rect x="802" y="707" width="5" height="72" fill="#3a3a3a"/><rect x="803" y="708" width="3" height="71" fill="url(#vg)"/>
<rect x="809" y="745" width="5" height="34" fill="#000"/><rect x="810" y="746" width="3" height="33" fill="url(#vb)"/>
<rect x="816" y="751" width="5" height="28" fill="#3a3a3a"/><rect x="817" y="752" width="3" height="27" fill="url(#vg)"/>
<rect x="823" y="762" width="5" height="17" fill="#3a3a3a"/><rect x="824" y="763" width="3" height="16" fill="url(#vg)"/>
<rect x="830" y="760" width="5" height="19" fill="#3a3a3a"/><rect x="831" y="761" width="3" height="18" fill="url(#vg)"/>
<rect x="837" y="744" width="5" height="35" fill="#000"/><rect x="838" y="745" width="3" height="34" fill="url(#vb)"/>
<rect x="844" y="732" width="5" height="47" fill="#3a3a3a"/><rect x="845" y="733" width="3" height="46" fill="url(#vg)"/>
<rect x="851" y="743" width="5" height="36" fill="#3a3a3a"/><rect x="852" y="744" width="3" height="35" fill="url(#vg)"/>
<rect x="858" y="752" width="5" height="27" fill="#000"/><rect x="859" y="753" width="3" height="26" fill="url(#vb)"/>
<rect x="865" y="752" width="5" height="27" fill="#3a3a3a"/><rect x="866" y="753" width="3" height="26" fill="url(#vg)"/>
<rect x="872" y="757" width="5" height="22" fill="#3a3a3a"/><rect x="873" y="758" width="3" height="21" fill="url(#vg)"/>
<rect x="879" y="746" width="5" height="33" fill="#000"/><rect x="880" y="747" width="3" height="32" fill="url(#vb)"/>
<rect x="886" y="765" width="5" height="14" fill="#3a3a3a"/><rect x="887" y="766" width="3" height="13" fill="url(#vg)"/>
<rect x="893" y="745" width="5" height="34" fill="#3a3a3a"/><rect x="894" y="746" width="3" height="33" fill="url(#vg)"/>
<rect x="900" y="741" width="5" height="38" fill="#3a3a3a"/><rect x="901" y="742" width="3" height="37" fill="url(#vg)"/>
<rect x="907" y="746" width="5" height="33" fill="#3a3a3a"/><rect x="908" y="747" width="3" height="32" fill="url(#vg)"/>
<rect x="914" y="753" width="5" height="26" fill="#3a3a3a"/><rect x="915" y="754" width="3" height="25" fill="url(#vg)"/>
<rect x="921" y="749" width="5" height="30" fill="#000"/><rect x="922" y="750" width="3" height="29" fill="url(#vb)"/>
<rect x="928" y="737" width="5" height="42" fill="#000"/><rect x="929" y="738" width="3" height="41" fill="url(#vb)"/>
<rect x="935" y="754" width="5" height="25" fill="#3a3a3a"/><rect x="936" y="755" width="3" height="24" fill="url(#vg)"/>
<rect x="942" y="752" width="5" height="27" fill="#000"/><rect x="943" y="753" width="3" height="26" fill="url(#vb)"/>
<rect x="949" y="756" width="5" height="23" fill="#3a3a3a"/><rect x="950" y="757" width="3" height="22" fill="url(#vg)"/>
<rect x="956" y="746" width="5" height="33" fill="#000"/><rect x="957" y="747" width="3" height="32" fill="url(#vb)"/>
<rect x="963" y="753" width="5" height="26" fill="#3a3a3a"/><rect x="964" y="754" width="3" height="25" fill="url(#vg)"/>
<rect x="970" y="756" width="5" height="23" fill="#000"/><rect x="971" y="757" width="3" height="22" fill="url(#vb)"/>
<rect x="977" y="742" width="5" height="37" fill="#3a3a3a"/><rect x="978" y="743" width="3" height="36" fill="url(#vg)"/>
<rect x="984" y="747" width="5" height="32" fill="#3a3a3a"/><rect x="985" y="748" width="3" height="31" fill="url(#vg)"/>
<rect x="991" y="756" width="5" height="23" fill="#000"/><rect x="992" y="757" width="3" height="22" fill="url(#vb)"/>
<rect x="998" y="755" width="5" height="24" fill="#3a3a3a"/><rect x="999" y="756" width="3" height="23" fill="url(#vg)"/>
<rect x="1005" y="763" width="5" height="16" fill="#000"/><rect x="1006" y="764" width="3" height="15" fill="url(#vb)"/>
<rect x="1012" y="751" width="5" height="28" fill="#3a3a3a"/><rect x="1013" y="752" width="3" height="27" fill="url(#vg)"/>
<rect x="1019" y="762" width="5" height="17" fill="#000"/><rect x="1020" y="763" width="3" height="16" fill="url(#vb)"/>
<rect x="1026" y="767" width="5" height="12" fill="#000"/><rect x="1027" y="768" width="3" height="11" fill="url(#vb)"/>
<rect x="1033" y="767" width="5" height="12" fill="#000"/><rect x="1034" y="768" width="3" height="11" fill="url(#vb)"/>
<rect x="1040" y="759" width="5" height="20" fill="#3a3a3a"/><rect x="1041" y="760" width="3" height="19" fill="url(#vg)"/>
<rect x="1047" y="770" width="5" height="9" fill="#000"/><rect x="1048" y="771" width="3" height="8" fill="url(#vb)"/>
<rect x="1054" y="758" width="5" height="21" fill="#3a3a3a"/><rect x="1055" y="759" width="3" height="20" fill="url(#vg)"/>
<rect x="1061" y="767" width="5" height="12" fill="#3a3a3a"/><rect x="1062" y="768" width="3" height="11" fill="url(#vg)"/>
<rect x="1068" y="767" width="5" height="12" fill="#000"/><rect x="1069" y="768" width="3" height="11" fill="url(#vb)"/>
<rect x="1075" y="770" width="5" height="9" fill="#3a3a3a"/><rect x="1076" y="771" width="3" height="8" fill="url(#vg)"/>
<rect x="1082" y="766" width="5" height="13" fill="#000"/><rect x="1083" y="767" width="3" height="12" fill="url(#vb)"/>
<rect x="1089" y="772" width="5" height="7" fill="#3a3a3a"/><rect x="1090" y="773" width="3" height="6" fill="url(#vg)"/>
<rect x="1096" y="770" width="5" height="9" fill="#000"/><rect x="1097" y="771" width="3" height="8" fill="url(#vb)"/>
<rect x="1103" y="761" width="5" height="18" fill="#000"/><rect x="1104" y="762" width="3" height="17" fill="url(#vb)"/>
<rect x="1110" y="767" width="5" height="12" fill="#000"/><rect x="1111" y="768" width="3" height="11" fill="url(#vb)"/>
</g>
<g shape-rendering="crispEdges">
<rect x="0" y="0" width="1" height="800" fill="#7b94a2"/>
<rect x="1199" y="0" width="1" height="800" fill="#7b94a2"/>
<rect x="0" y="799" width="1200" height="1" fill="#7b94a2"/>
<rect x="1156" y="21" width="1" height="679" fill="#7b94a2"/>
<rect x="1156" y="702" width="1" height="78" fill="#7b94a2"/>
<rect x="0" y="699" width="1157" height="1" fill="#7b94a2"/>
<rect x="0" y="702" width="1157" height="1" fill="#7b94a2"/>
<rect x="0" y="779" width="1157" height="1" fill="#7b94a2"/>
<rect x="1157" y="26" width="4" height="1" fill="#7b94a2"/>
<rect x="1157" y="81" width="4" height="1" fill="#7b94a2"/>
<rect x="1157" y="138" width="4" height="1" fill="#7b94a2"/>
<rect x="1157" y="197" width="4" height="1" fill="#7b94a2"/>
<rect x="1157" y="259" width="4" height="1" fill="#7b94a2"/>
<rect x="1157" y="324" width="4" height="1" fill="#7b94a2"/>
<rect x="1157" y="391" width="4" height="1" fill="#7b94a2"/>
<rect x="1157" y="462" width="4" height="1" fill="#7b94a2"/>
<rect x="1157" y="536" width="4" height="1" fill="#7b94a2"/>
<rect x="1157" y="615" width="4" height="1" fill="#7b94a2"/>
<rect x="1157" y="698" width="4" height="1" fill="#7b94a2"/>
<rect x="1157" y="716" width="4" height="1" fill="#7b94a2"/>
<rect x="1157" y="747" width="4" height="1" fill="#7b94a2"/>
<rect x="1157" y="166" width="4" height="1" fill="#000"/>
<rect x="1157" y="767" width="4" height="1" fill="#000"/>
<rect x="27" y="780" width="1" height="4" fill="#7b94a2"/>
<rect x="62" y="780" width="1" height="4" fill="#7b94a2"/>
<rect x="97" y="780" width="1" height="4" fill="#7b94a2"/>
<rect x="132" y="780" width="1" height="4" fill="#7b94a2"/>
<rect x="153" y="780" width="1" height="4" fill="#7b94a2"/>
<rect x="202" y="780" width="1" height="4" fill="#7b94a2"/>
<rect x="237" y="780" width="1" height="4" fill="#7b94a2"/>
<rect x="272" y="780" width="1" height="4" fill="#7b94a2"/>
<rect x="307" y="780" width="1" height="4" fill="#7b94a2"/>
<rect x="342" y="780" width="1" height="4" fill="#7b94a2"/>
<rect x="377" y="780" width="1" height="4" fill="#7b94a2"/>
<rect x="412" y="780" width="1" height="4" fill="#7b94a2"/>
<rect x="461" y="780" width="1" height="4" fill="#7b94a2"/>
<rect x="517" y="780" width="1" height="4" fill="#7b94a2"/>
<rect x="552" y="780" width="1" height="4" fill="#7b94a2"/>
<rect x="587" y="780" width="1" height="4" fill="#7b94a2"/>
<rect x="608" y="780" width="1" height="4" fill="#7b94a2"/>
<rect x="657" y="780" width="1" height="4" fill="#7b94a2"/>
<rect x="692" y="780" width="1" height="4" fill="#7b94a2"/>
<rect x="727" y="780" width="1" height="4" fill="#7b94a2"/>
<rect x="769" y="780" width="1" height="4" fill="#7b94a2"/>
<rect x="797" y="780" width="1" height="4" fill="#7b94a2"/>
<rect x="832" y="780" width="1" height="4" fill="#7b94a2"/>
<rect x="867" y="780" width="1" height="4" fill="#7b94a2"/>
<rect x="916" y="780" width="1" height="4" fill="#7b94a2"/>
<rect x="972" y="780" width="1" height="4" fill="#7b94a2"/>
<rect x="1007" y="780" width="1" height="4" fill="#7b94a2"/>
<rect x="1042" y="780" width="1" height="4" fill="#7b94a2"/>
<rect x="1070" y="780" width="1" height="4" fill="#7b94a2"/>
<rect x="1112" y="780" width="1" height="4" fill="#7b94a2"/>
<rect x="1147" y="780" width="1" height="4" fill="#7b94a2"/>
<rect x="1" y="21" width="29" height="14" fill="url(#lb)"/><rect x="29" y="21" width="1" height="14" fill="#7f9ba8"/><rect x="1" y="34" width="29" height="1" fill="#7f9ba8"/>
<rect x="1" y="703" width="41" height="14" fill="url(#lb)"/><rect x="41" y="703" width="1" height="14" fill="#7f9ba8"/><rect x="1" y="716" width="41" height="1" fill="#7f9ba8"/>
<rect x="1161" y="158" width="37" height="16" fill="#7b94a2"/><rect x="1162" y="159" width="35" height="14" fill="url(#yl)"/>
<rect x="1161" y="759" width="33" height="16" fill="#7b94a2"/><rect x="1162" y="760" width="31" height="14" fill="url(#vl)"/>
<rect x="6" y="8" width="1" height="11" fill="#d23a3a"/><rect x="3" y="10" width="7" height="7" fill="#d23a3a"/><rect x="4" y="11" width="5" height="5" fill="#f48a8a"/>
<rect x="14" y="3" width="1" height="16" fill="#18b018"/><rect x="11" y="6" width="7" height="10" fill="#18b018"/><rect x="12" y="7" width="5" height="8" fill="#6ae66a"/>
</g>
<g filter="url(#noop)">
<text x="22.3" y="15" font-size="11" font-weight="bold" text-anchor="start" textLength="103.6" lengthAdjust="spacingAndGlyphs" fill="#000" stroke="#000" stroke-width="0.4">B.COM.PORTUGUES</text>
<text x="134.2" y="15" font-size="11" font-weight="bold" text-anchor="start" textLength="26" lengthAdjust="spacingAndGlyphs" fill="#000" stroke="#000" stroke-width="0.4">Daily</text>
<text x="168.6" y="15" font-size="11" font-weight="bold" text-anchor="start" textLength="78" lengthAdjust="spacingAndGlyphs" fill="#000" stroke="#000" stroke-width="0.4">0.2453 (-0.45%)</text>
<text x="255.8" y="15" font-size="11" font-weight="bold" text-anchor="start" textLength="64" lengthAdjust="spacingAndGlyphs" fill="#000" stroke="#000" stroke-width="0.4">09-Nov-2017</text>
<text x="1066.6" y="15" font-size="11" font-weight="bold" text-anchor="start" textLength="130" lengthAdjust="spacingAndGlyphs" fill="#000" stroke="#000" stroke-width="0.4">www.ProRealTime.com</text>
<text x="2.3" y="31" font-size="11" text-anchor="start" textLength="24.6" lengthAdjust="spacingAndGlyphs" fill="#000" stroke="#000" stroke-width="0.25">Price</text>
<text x="2.6" y="713" font-size="11" text-anchor="start" textLength="36.4" lengthAdjust="spacingAndGlyphs" fill="#000" stroke="#000" stroke-width="0.25">Volume</text>
<text x="2.4" y="697" font-size="11" text-anchor="start" textLength="93.6" lengthAdjust="spacingAndGlyphs" fill="#000" stroke="#000" stroke-width="0.25">© ProRealTime.com</text>
<text x="1162.2" y="31" font-size="11" text-anchor="start" fill="#000" stroke="#000" stroke-width="0.25">0.27</text>
<text x="1162.2" y="85" font-size="11" text-anchor="start" fill="#000" stroke="#000" stroke-width="0.25">0.26</text>
<text x="1162.2" y="142" font-size="13" font-weight="bold" text-anchor="start" textLength="24.6" lengthAdjust="spacingAndGlyphs" fill="#000" stroke="#000" stroke-width="0.4">0.25</text>
<text x="1162.2" y="201" font-size="11" text-anchor="start" fill="#000" stroke="#000" stroke-width="0.25">0.24</text>
<text x="1162.2" y="263" font-size="11" text-anchor="start" fill="#000" stroke="#000" stroke-width="0.25">0.23</text>
<text x="1162.2" y="328" font-size="11" text-anchor="start" fill="#000" stroke="#000" stroke-width="0.25">0.22</text>
<text x="1162.2" y="395" font-size="11" text-anchor="start" fill="#000" stroke="#000" stroke-width="0.25">0.21</text>
<text x="1162.2" y="466" font-size="13" font-weight="bold" text-anchor="start" textLength="17.4" lengthAdjust="spacingAndGlyphs" fill="#000" stroke="#000" stroke-width="0.4">0.2</text>
<text x="1162.2" y="540" font-size="11" text-anchor="start" fill="#000" stroke="#000" stroke-width="0.25">0.19</text>
<text x="1162.2" y="619" font-size="11" text-anchor="start" fill="#000" stroke="#000" stroke-width="0.25">0.18</text>
<text x="1162.2" y="697" font-size="11" text-anchor="start" fill="#000" stroke="#000" stroke-width="0.25">0.17</text>
<text x="1162.5" y="170" font-size="11" text-anchor="start" textLength="33.2" lengthAdjust="spacingAndGlyphs" fill="#000" stroke="#000" stroke-width="0.25">0.2453</text>
<text x="1162.2" y="720" font-size="11" text-anchor="start" textLength="26.8" lengthAdjust="spacingAndGlyphs" fill="#000" stroke="#000" stroke-width="0.25">200M</text>
<text x="1162.2" y="751" font-size="11" text-anchor="start" textLength="26.8" lengthAdjust="spacingAndGlyphs" fill="#000" stroke="#000" stroke-width="0.25">100M</text>
<text x="1162.3" y="771" font-size="11" text-anchor="start" textLength="29.6" lengthAdjust="spacingAndGlyphs" fill="#000" stroke="#000" stroke-width="0.25">38.1M</text>
<text x="26.8" y="795.4" font-size="11" font-weight="bold" text-anchor="middle" textLength="19.2" lengthAdjust="spacingAndGlyphs" fill="#000" stroke="#000" stroke-width="0.4">Apr</text>
<text x="61.6" y="795.5" font-size="11" text-anchor="middle" fill="#000" stroke="#000" stroke-width="0.25">10</text>
<text x="96.6" y="795.5" font-size="11" text-anchor="middle" fill="#000" stroke="#000" stroke-width="0.25">19</text>
<text x="131.6" y="795.5" font-size="11" text-anchor="middle" fill="#000" stroke="#000" stroke-width="0.25">26</text>
<text x="152.8" y="795.4" font-size="11" font-weight="bold" text-anchor="middle" textLength="23.8" lengthAdjust="spacingAndGlyphs" fill="#000" stroke="#000" stroke-width="0.4">May</text>
<text x="201.6" y="795.5" font-size="11" text-anchor="middle" fill="#000" stroke="#000" stroke-width="0.25">11</text>
<text x="236.6" y="795.5" font-size="11" text-anchor="middle" fill="#000" stroke="#000" stroke-width="0.25">18</text>
<text x="271.6" y="795.5" font-size="11" text-anchor="middle" fill="#000" stroke="#000" stroke-width="0.25">25</text>
<text x="306.8" y="795.4" font-size="11" font-weight="bold" text-anchor="middle" textLength="20.8" lengthAdjust="spacingAndGlyphs" fill="#000" stroke="#000" stroke-width="0.4">Jun</text>
<text x="341.6" y="795.5" font-size="11" text-anchor="middle" fill="#000" stroke="#000" stroke-width="0.25">08</text>
<text x="376.6" y="795.5" font-size="11" text-anchor="middle" fill="#000" stroke="#000" stroke-width="0.25">15</text>
<text x="411.6" y="795.5" font-size="11" text-anchor="middle" fill="#000" stroke="#000" stroke-width="0.25">22</text>
<text x="460.8" y="795.4" font-size="11" font-weight="bold" text-anchor="middle" textLength="16.8" lengthAdjust="spacingAndGlyphs" fill="#000" stroke="#000" stroke-width="0.4">Jul</text>
<text x="516.6" y="795.5" font-size="11" text-anchor="middle" fill="#000" stroke="#000" stroke-width="0.25">13</text>
<text x="551.6" y="795.5" font-size="11" text-anchor="middle" fill="#000" stroke="#000" stroke-width="0.25">20</text>
<text x="586.6" y="795.5" font-size="11" text-anchor="middle" fill="#000" stroke="#000" stroke-width="0.25">27</text>
<text x="607.8" y="795.4" font-size="11" font-weight="bold" text-anchor="middle" textLength="21.8" lengthAdjust="spacingAndGlyphs" fill="#000" stroke="#000" stroke-width="0.4">Aug</text>
<text x="656.6" y="795.5" font-size="11" text-anchor="middle" fill="#000" stroke="#000" stroke-width="0.25">10</text>
<text x="691.6" y="795.5" font-size="11" text-anchor="middle" fill="#000" stroke="#000" stroke-width="0.25">17</text>
<text x="726.6" y="795.5" font-size="11" text-anchor="middle" fill="#000" stroke="#000" stroke-width="0.25">24</text>
<text x="768.8" y="795.4" font-size="11" font-weight="bold" text-anchor="middle" textLength="22.0" lengthAdjust="spacingAndGlyphs" fill="#000" stroke="#000" stroke-width="0.4">Sep</text>
<text x="796.6" y="795.5" font-size="11" text-anchor="middle" fill="#000" stroke="#000" stroke-width="0.25">07</text>
<text x="831.6" y="795.5" font-size="11" text-anchor="middle" fill="#000" stroke="#000" stroke-width="0.25">14</text>
<text x="866.6" y="795.5" font-size="11" text-anchor="middle" fill="#000" stroke="#000" stroke-width="0.25">21</text>
<text x="915.8" y="795.4" font-size="11" font-weight="bold" text-anchor="middle" textLength="20.2" lengthAdjust="spacingAndGlyphs" fill="#000" stroke="#000" stroke-width="0.4">Oct</text>
<text x="971.6" y="795.5" font-size="11" text-anchor="middle" fill="#000" stroke="#000" stroke-width="0.25">12</text>
<text x="1006.6" y="795.5" font-size="11" text-anchor="middle" fill="#000" stroke="#000" stroke-width="0.25">19</text>
<text x="1041.6" y="795.5" font-size="11" text-anchor="middle" fill="#000" stroke="#000" stroke-width="0.25">26</text>
<text x="1069.8" y="795.4" font-size="11" font-weight="bold" text-anchor="middle" textLength="22.0" lengthAdjust="spacingAndGlyphs" fill="#000" stroke="#000" stroke-width="0.4">Nov</text>
<text x="1111.6" y="795.5" font-size="11" text-anchor="middle" fill="#000" stroke="#000" stroke-width="0.25">09</text>
<text x="1146.6" y="795.5" font-size="11" text-anchor="middle" fill="#000" stroke="#000" stroke-width="0.25">16</text>
</g>
</svg></body></html>
